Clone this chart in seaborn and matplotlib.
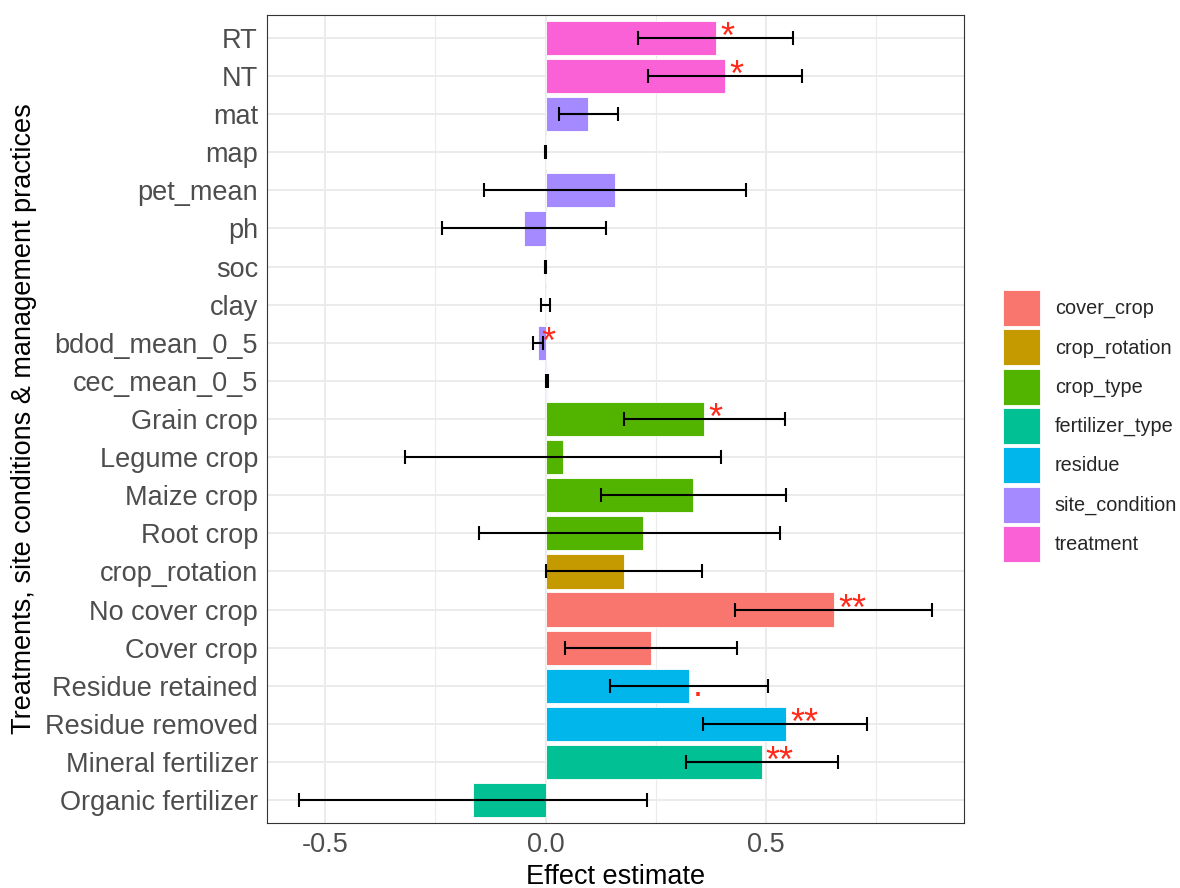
import numpy as np
import pandas as pd
import matplotlib
matplotlib.use("Agg")
import matplotlib.pyplot as plt
import seaborn as sns
from matplotlib.patches import Patch

# Model terms, top to bottom
terms = ["RT", "NT", "mat", "map", "pet_mean", "ph", "soc", "clay",
         "bdod_mean_0_5", "cec_mean_0_5", "Grain crop", "Legume crop",
         "Maize crop", "Root crop", "crop_rotation", "No cover crop",
         "Cover crop", "Residue retained", "Residue removed",
         "Mineral fertilizer", "Organic fertilizer"]
groups = ["treatment", "treatment",
          "site_condition", "site_condition", "site_condition", "site_condition",
          "site_condition", "site_condition", "site_condition", "site_condition",
          "crop_type", "crop_type", "crop_type", "crop_type",
          "crop_rotation", "cover_crop", "cover_crop", "residue", "residue",
          "fertilizer_type", "fertilizer_type"]
estimate = [0.386, 0.407, 0.097, 0.001, 0.158, -0.048, 0.001, 0.001,
            -0.018, 0.003, 0.360, 0.039, 0.335, 0.222, 0.177, 0.654,
            0.240, 0.325, 0.545, 0.490, -0.164]
ci_low = [0.210, 0.233, 0.031, -0.001, -0.139, -0.236, -0.001, -0.010,
          -0.029, 0.001, 0.178, -0.320, 0.126, -0.151, 0.000, 0.429,
          0.045, 0.146, 0.357, 0.318, -0.560]
ci_high = [0.560, 0.581, 0.165, 0.002, 0.455, 0.137, 0.001, 0.011,
           -0.007, 0.006, 0.543, 0.397, 0.546, 0.531, 0.355, 0.877,
           0.435, 0.505, 0.729, 0.662, 0.231]
signif = ["*", "*", "", "", "", "", "", "", "*", "", "*", "", "", "", "",
          "**", "", ".", "**", "**", ""]

group_levels = ["cover_crop", "crop_rotation", "crop_type", "fertilizer_type",
                "residue", "site_condition", "treatment"]
group_colors = ["#F8766D", "#C49A00", "#53B400", "#00C094",
                "#00B6EB", "#A58AFF", "#FB61D7"]

df = pd.DataFrame({"term": terms, "group": groups, "estimate": estimate,
                   "low": ci_low, "high": ci_high, "sig": signif})

sns.set_style("white")
plt.rcParams["font.family"] = ["Liberation Sans", "DejaVu Sans"]

fig = plt.figure(figsize=(11.8, 8.88), dpi=100)
ax = fig.add_axes([267 / 1180, 1 - 823 / 888, (964 - 267) / 1180, (823 - 15) / 888])

palette = dict(zip(group_levels, group_colors))
sns.barplot(data=df, x="estimate", y="term", hue="group", order=terms,
            hue_order=group_levels, palette=palette, dodge=False, width=0.9,
            orient="h", edgecolor="white", linewidth=0.6, saturation=1,
            legend=False, ax=ax, zorder=2)

ypos = np.arange(len(terms))
est = df["estimate"].to_numpy()
xerr = np.vstack([est - df["low"].to_numpy(), df["high"].to_numpy() - est])
ax.errorbar(est, ypos, xerr=xerr, fmt="none", ecolor="black",
            elinewidth=1.5, capsize=5.2, capthick=1.5, zorder=3)

for i, (x, s) in enumerate(zip(est, df["sig"])):
    if s:
        ax.annotate(s, xy=(x, i), xytext=(3, -7.5), textcoords="offset points",
                    ha="left", va="baseline", color="#FF2A1A", fontsize=26,
                    zorder=4)

# Axis limits with ggplot-style expansion
lo, hi = df["low"].min(), df["high"].max()
pad = 0.05 * (hi - lo)
ax.set_xlim(lo - pad, hi + pad)
ax.set_ylim(len(terms) - 1 + 0.6, -0.6)

ax.set_xticks([-0.5, 0.0, 0.5])
ax.set_xticklabels(["-0.5", "0.0", "0.5"])
ax.set_xticks([-0.25, 0.25, 0.75], minor=True)
ax.set_yticks(ypos)
ax.set_yticklabels(terms)

ax.grid(False)
ax.set_axisbelow(True)
for v in [-0.5, 0.0, 0.5]:
    ax.axvline(v, color="#EBEBEB", lw=1.4, zorder=0)
for v in [-0.25, 0.25, 0.75]:
    ax.axvline(v, color="#EBEBEB", lw=0.8, zorder=0)
for y in ypos:
    ax.axhline(y, color="#EBEBEB", lw=1.4, zorder=0)

for sp in ax.spines.values():
    sp.set_visible(True)
    sp.set_color("#333333")
    sp.set_linewidth(0.8)

ax.tick_params(axis="both", which="major", length=4, width=0.8, color="#333333",
               labelsize=19.5, labelcolor="#4D4D4D", pad=2.5)
ax.tick_params(axis="x", which="minor", length=0)

ax.set_xlabel("Effect estimate", fontsize=19.5, color="black", labelpad=4)
ax.set_ylabel("Treatments, site conditions & management practices",
              fontsize=19.5, color="black", labelpad=6)

handles = [Patch(facecolor=c, edgecolor="white", linewidth=0.6, label=g)
           for g, c in zip(group_levels, group_colors)]
fig.legend(handles=handles, loc="center left",
           bbox_to_anchor=(1003 / 1180, 1 - 426 / 888), frameon=False,
           fontsize=14.3, handlelength=1.86, handleheight=2.41,
           labelspacing=0.17, handletextpad=0.75, borderpad=0, borderaxespad=0)

fig.savefig("out.png", dpi=100, facecolor="white")
